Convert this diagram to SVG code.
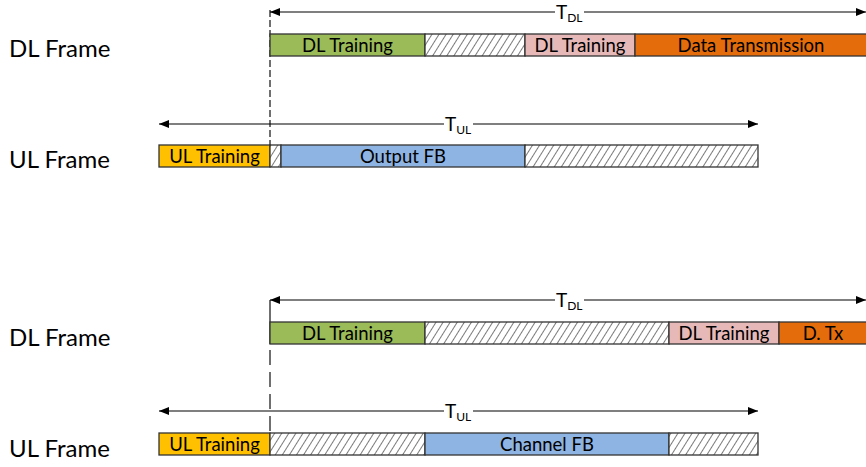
<svg xmlns="http://www.w3.org/2000/svg" width="866" height="467" viewBox="0 0 866 467">
  <style>
    text { font-family: Lato, "Open Sans", "Liberation Sans", sans-serif; fill: #000; }
    .frame { font-size: 24px; }
    .lbl { font-size: 18.5px; text-anchor: middle; }
    .per { font-size: 19px; }
    .sub { font-size: 12px; }
    .bar { stroke: #333; stroke-width: 1.3; }
    .axis { stroke: #000; stroke-width: 1.2; fill: none; marker-start: url(#ah); marker-end: url(#ah); }
    .mark { stroke: #333; stroke-width: 1.4; fill: none; }
  </style>
  <defs>
    <pattern id="hatch" patternUnits="userSpaceOnUse" width="6" height="6" patternTransform="rotate(32)">
      <rect width="6" height="6" fill="#fff"/>
      <line x1="0" y1="0" x2="0" y2="6" stroke="#222" stroke-width="1.2"/>
    </pattern>
    <marker id="ah" viewBox="0 0 10 8" refX="10" refY="4" markerWidth="10" markerHeight="8" markerUnits="userSpaceOnUse" orient="auto-start-reverse">
      <path d="M0,0 L10,4 L0,8 Z" fill="#000"/>
    </marker>
  </defs>

  <!-- frame labels -->
  <g id="labels">
    <text class="frame" x="9" y="57">DL Frame</text>
    <text class="frame" x="9" y="168">UL Frame</text>
    <text class="frame" x="9" y="346">DL Frame</text>
    <text class="frame" x="9" y="457">UL Frame</text>
  </g>

  <!-- time-span arrows and reference lines -->
  <g id="connectors">
    <line class="mark" x1="270" y1="10" x2="270" y2="167" stroke-dasharray="7,3"/>
    <line class="mark" x1="270" y1="300" x2="270" y2="455" stroke-dasharray="44,6,15,7,15,7,15,7,15,7,15,7"/>
    <line class="axis" x1="270" y1="12" x2="866" y2="12"/>
    <line class="axis" x1="159" y1="124" x2="758" y2="124"/>
    <line class="axis" x1="270" y1="300" x2="866" y2="300"/>
    <line class="axis" x1="159" y1="411" x2="758" y2="411"/>
    <!-- period labels with white backing -->
    <rect x="555" y="3" width="29" height="20" fill="#fff"/>
    <text class="per" x="556" y="19">T<tspan class="sub" dy="3">DL</tspan></text>
    <rect x="444" y="115" width="29" height="20" fill="#fff"/>
    <text class="per" x="445" y="131">T<tspan class="sub" dy="3">UL</tspan></text>
    <rect x="555" y="291" width="29" height="20" fill="#fff"/>
    <text class="per" x="556" y="307">T<tspan class="sub" dy="3">DL</tspan></text>
    <rect x="444" y="402" width="29" height="20" fill="#fff"/>
    <text class="per" x="445" y="418">T<tspan class="sub" dy="3">UL</tspan></text>
  </g>

  <!-- scenario 1: DL frame -->
  <g id="dl1">
    <rect class="bar" x="270" y="34" width="155" height="22" fill="#9BBB59"/>
    <rect class="bar" x="425" y="34" width="100" height="22" fill="url(#hatch)"/>
    <rect class="bar" x="525" y="34" width="110" height="22" fill="#E6B9B8"/>
    <rect class="bar" x="635" y="34" width="235" height="22" fill="#E46C0A"/>
    <text class="lbl" x="347.5" y="51.5">DL Training</text>
    <text class="lbl" x="580" y="51.5">DL Training</text>
    <text class="lbl" x="751" y="51.5">Data Transmission</text>
  </g>

  <!-- scenario 1: UL frame -->
  <g id="ul1">
    <rect class="bar" x="159" y="145" width="111" height="22" fill="#FFC000"/>
    <rect class="bar" x="270" y="145" width="11" height="22" fill="url(#hatch)"/>
    <rect class="bar" x="281" y="145" width="244" height="22" fill="#8EB4E3"/>
    <rect class="bar" x="525" y="145" width="233" height="22" fill="url(#hatch)"/>
    <text class="lbl" x="214.5" y="162.5">UL Training</text>
    <text class="lbl" x="403" y="162.5">Output FB</text>
  </g>

  <!-- scenario 2: DL frame -->
  <g id="dl2">
    <rect class="bar" x="270" y="322" width="155" height="22" fill="#9BBB59"/>
    <rect class="bar" x="425" y="322" width="244" height="22" fill="url(#hatch)"/>
    <rect class="bar" x="669" y="322" width="110" height="22" fill="#E6B9B8"/>
    <rect class="bar" x="779" y="322" width="91" height="22" fill="#E46C0A"/>
    <text class="lbl" x="347.5" y="339.5">DL Training</text>
    <text class="lbl" x="724" y="339.5">DL Training</text>
    <text class="lbl" x="823" y="339.5">D. Tx</text>
  </g>

  <!-- scenario 2: UL frame -->
  <g id="ul2">
    <rect class="bar" x="159" y="433" width="111" height="22" fill="#FFC000"/>
    <rect class="bar" x="270" y="433" width="155" height="22" fill="url(#hatch)"/>
    <rect class="bar" x="425" y="433" width="244" height="22" fill="#8EB4E3"/>
    <rect class="bar" x="669" y="433" width="89" height="22" fill="url(#hatch)"/>
    <text class="lbl" x="214.5" y="450.5">UL Training</text>
    <text class="lbl" x="547" y="450.5">Channel FB</text>
  </g>
</svg>
